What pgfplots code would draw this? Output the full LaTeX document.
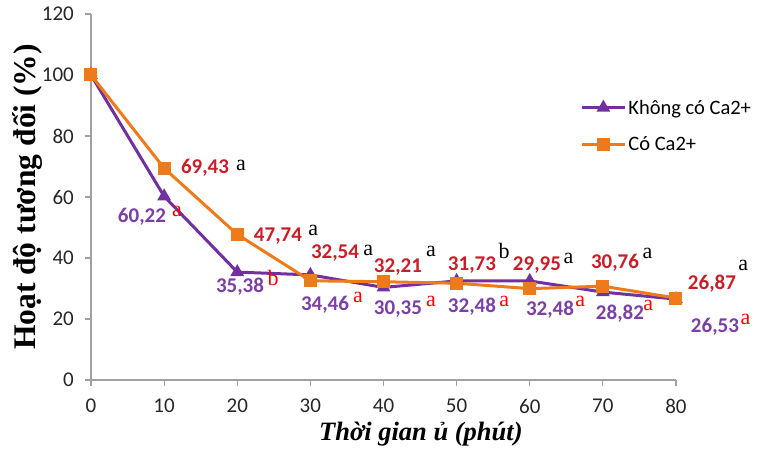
\documentclass[border=0pt]{standalone}
\usepackage{fontspec}
\setmainfont{Carlito}
\newfontfamily\tnr{Liberation Serif}
\usepackage{pgfplots}
\pgfplotsset{compat=1.18}
\definecolor{lpurple}{HTML}{7030A0}
\definecolor{lorange}{HTML}{EF7A1A}
\definecolor{tpurple}{HTML}{7B3FA6}
\definecolor{tred}{HTML}{C81E28}
\definecolor{axgray}{HTML}{A0A0A0}
\newcommand\plab[2]{\node[font=\fontsize{21bp}{21bp}\selectfont\bfseries, text=tpurple, inner sep=0] at (axis cs:#1) {#2};}
\newcommand\olab[2]{\node[font=\fontsize{21bp}{21bp}\selectfont\bfseries, text=tred, inner sep=0] at (axis cs:#1) {#2};}
\newcommand\rlet[2]{\node[font=\tnr\fontsize{22bp}{22bp}\selectfont, text=red, inner sep=0] at (axis cs:#1) {#2};}
\newcommand\blet[2]{\node[font=\tnr\fontsize{22bp}{22bp}\selectfont, text=black, inner sep=0] at (axis cs:#1) {#2};}
\begin{document}
\begin{tikzpicture}
\begin{axis}[
  at={(0,0)}, anchor=south west,
  scale only axis, width=585bp, height=366bp,
  xmin=0, xmax=80, ymin=0, ymax=120,
  xtick={0,10,20,30,40,50,60,70,80}, ytick={0,20,40,60,80,100,120},
  xticklabels={0,10,20,30,40,50,60,70,80},
  yticklabels={0,20,40,60,80,100,120},
  axis x line=bottom, axis y line=left,
  axis line style={-, draw=axgray, line width=1.5bp},
  tick align=outside, major tick length=6bp,
  every tick/.style={axgray, line width=1.2bp},
  every tick label/.append style={font=\fontsize{21bp}{21bp}\selectfont},
  yticklabel style={text=black!85, inner sep=0, anchor=east, xshift=-11bp},
  xticklabel style={text=black!85, inner sep=0, anchor=north, yshift=-13bp},
  clip=false,
  xlabel={Thời gian ủ (phút)},
  ylabel={Hoạt độ tương đối (\%)},
  xlabel style={at={(rel axis cs:0.564,-0.148)}, anchor=center, font=\tnr\bfseries\itshape\fontsize{26.5bp}{26.5bp}\selectfont},
  ylabel style={at={(rel axis cs:-0.1077,0.5)}, anchor=center, font=\tnr\bfseries\fontsize{31.5bp}{31.5bp}\selectfont},
  legend style={draw=none, fill=none, at={(axis cs:66.9,83.3)}, anchor=west, inner sep=0,
    font=\fontsize{20.5bp}{23bp}\selectfont, row sep=17bp, nodes={inner sep=2bp}},
  legend cell align=left,
  legend image code/.code={\draw[mark repeat=2,mark phase=2] plot coordinates {(0bp,0bp)(21.5bp,0bp)(43bp,0bp)};},
]
\addplot[lpurple, line width=3bp, mark=triangle*, mark size=5bp, mark options={fill=lpurple}] coordinates {(0,100)(10,60.22)(20,35.38)(30,34.46)(40,30.35)(50,32.48)(60,32.48)(70,28.82)(80,26.53)};
\addlegendentry{Không có Ca2+}
\addplot[lorange, line width=3bp, mark=square*, mark size=5bp, mark options={fill=lorange}] coordinates {(0,100)(10,69.43)(20,47.74)(30,32.54)(40,32.21)(50,31.73)(60,29.95)(70,30.76)(80,26.87)};
\addlegendentry{Có Ca2+}
% orange-series labels
\olab{15.59,69.5}{69,43}\blet{20.5,70.5}{a}
\olab{25.57,47.2}{47,74}\blet{30.4,48.9}{a}
\olab{33.37,41.6}{32,54}\blet{37.9,42.6}{a}
\olab{41.98,37.0}{32,21}\blet{46.5,42.0}{a}
\olab{52.10,37.7}{31,73}\blet{56.5,42.3}{b}
\olab{60.99,37.7}{29,95}\blet{65.3,40.0}{a}
\olab{71.66,38.4}{30,76}\blet{76.1,41.6}{a}
\olab{84.92,31.5}{26,87}\blet{89.2,37.7}{a}
% purple-series labels
\plab{6.97,53.4}{60,22}\rlet{11.76,55.1}{a}
\plab{20.38,30.5}{35,38}\rlet{24.89,33.4}{b}
\plab{32.0,24.6}{34,46}\rlet{36.5,27.2}{a}
\plab{41.98,23.3}{30,35}\rlet{46.5,25.9}{a}
\plab{52.10,23.9}{32,48}\rlet{56.5,25.9}{a}
\plab{62.77,23.0}{32,48}\rlet{66.9,25.6}{a}
\plab{72.34,21.6}{28,82}\rlet{76.2,24.6}{a}
\plab{85.33,17.4}{26,53}\rlet{89.5,20.0}{a}
\end{axis}
\path[use as bounding box] (-91bp,-74bp) rectangle (666bp,380bp);
\end{tikzpicture}
\end{document}
